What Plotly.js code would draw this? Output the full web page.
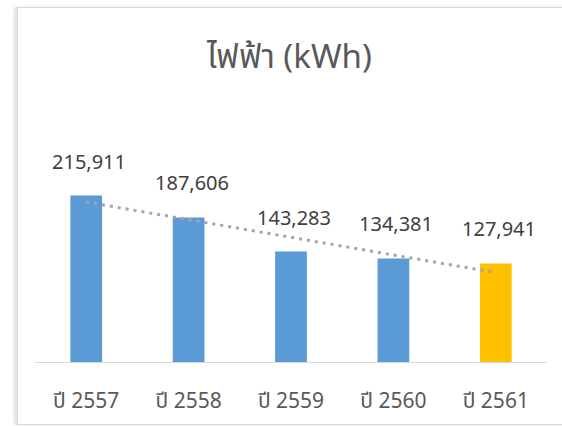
<!DOCTYPE html>
<html><head><meta charset="utf-8">
<script src="https://cdn.plot.ly/plotly-3.0.1.min.js"></script>
<style>
html,body{margin:0;padding:0;background:#fff;}
#wrap{position:relative;width:562px;height:426px;overflow:hidden;}
#chart{position:absolute;left:0;top:0;width:562px;height:426px;}
#frame{position:absolute;left:17px;top:7px;width:560px;height:416px;border:1px solid #D9D9D9;box-shadow:-3px 0 3px rgba(0,0,0,0.12);pointer-events:none;}
</style></head>
<body><div id="wrap"><div id="chart"></div><div id="frame"></div></div>
<script>
const categories = ["ปี 2557", "ปี 2558", "ปี 2559", "ปี 2560", "ปี 2561"];
const values = [215911, 187606, 143283, 134381, 127941];
const valueLabels = ["215,911", "187,606", "143,283", "134,381", "127,941"];
const barColors = ["#5B9BD5", "#5B9BD5", "#5B9BD5", "#5B9BD5", "#FFC000"];

// linear trendline (least squares over category index), as in the original chart
const n = values.length;
const xs = values.map((v, i) => i + 1);
const mx = xs.reduce((a, b) => a + b, 0) / n;
const my = values.reduce((a, b) => a + b, 0) / n;
let sxy = 0, sxx = 0;
for (let i = 0; i < n; i++) { sxy += (xs[i] - mx) * (values[i] - my); sxx += (xs[i] - mx) ** 2; }
const slope = sxy / sxx, icpt = my - slope * mx;
const trend = xs.map(x => icpt + slope * x);

const FONT = "'Noto Sans', 'Noto Sans Thai', 'DejaVu Sans', sans-serif";

const traces = [
  { type: "bar", x: categories, y: values, marker: { color: barColors }, hoverinfo: "none", showlegend: false },
  { type: "scatter", mode: "lines", x: categories, y: trend,
    line: { color: "#A5A5A5", width: 3, dash: "3px,5px" }, hoverinfo: "none", showlegend: false }
];

const annotations = categories.map((c, i) => ({
  x: c, y: values[i], text: valueLabels[i], showarrow: false,
  yanchor: "bottom", yshift: 19, xshift: 3,
  font: { family: FONT, size: 20, color: "#404040" }
}));

const layout = {
  width: 562, height: 426,
  margin: { l: 35, r: 15, t: 100, b: 64 },
  paper_bgcolor: "#fff", plot_bgcolor: "#fff",
  title: { text: "ไฟฟ้า (kWh)", x: 0.515, xanchor: "center", y: 0.868, yanchor: "middle",
           font: { family: FONT, size: 33, color: "#595959" } },
  bargap: 0.69,
  xaxis: { type: "category", range: [-0.5, 4.5], showline: true, linecolor: "#D9D9D9", linewidth: 1,
           showgrid: false, zeroline: false, ticks: "", ticklabelstandoff: 20,
           tickfont: { family: FONT, size: 21, color: "#595959" } },
  yaxis: { range: [0, 340000], visible: false, showgrid: false, zeroline: false },
  annotations: annotations
};
Plotly.newPlot("chart", traces, layout, { staticPlot: true });
</script></body></html>
